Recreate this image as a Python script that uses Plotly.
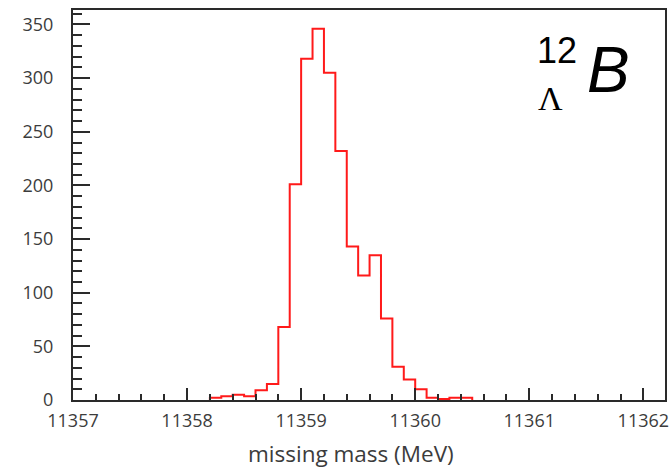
import plotly.graph_objects as go

# Histogram bins (0.1 MeV wide), left edges start at 11358.2
bin_start = 11358.2
bin_width = 0.1
counts = [2, 3.5, 5, 3.5, 9, 15, 68, 201, 318, 346, 305, 232, 143, 116, 135, 76, 31, 19, 10, 2, 1, 2, 2]

x_tick_vals = [11357, 11358, 11359, 11360, 11361, 11362]
x_tick_text = ["11357", "11358", "11359", "11360", "11361", "11362"]
y_tick_vals = [0, 50, 100, 150, 200, 250, 300, 350]

edges = [round(bin_start + i * bin_width, 4) for i in range(len(counts) + 1)]
xs = [edges[0]]
ys = [0]
for i, c in enumerate(counts):
    xs += [edges[i], edges[i + 1]]
    ys += [c, c]
xs.append(edges[-1])
ys.append(0)

fig = go.Figure()
fig.add_trace(go.Scatter(x=xs, y=ys, mode="lines",
                         line=dict(color="#ff1a1a", width=2),
                         showlegend=False, hoverinfo="skip"))

axis_color = "#2a2a2a"
label_color = "#3c3c3c"
tick_font = dict(family="Open Sans, sans-serif", size=18, color=label_color)

L, R, T, B = 73, 5, 10, 69
W, H = 670, 469
pw, ph = W - L - R, H - T - B

fig.update_layout(
    width=W, height=H,
    margin=dict(l=L, r=R, t=T, b=B),
    paper_bgcolor="white", plot_bgcolor="white",
    xaxis=dict(
        range=[11357, 11362.19],
        tickvals=x_tick_vals, ticktext=x_tick_text,
        ticks="inside", ticklen=12, tickwidth=2, tickcolor=axis_color,
        minor=dict(dtick=0.2, tick0=11357, ticks="inside", ticklen=6, tickwidth=2, tickcolor=axis_color, showgrid=False),
        showline=True, linecolor=axis_color, linewidth=2, mirror=True,
        showgrid=False, zeroline=False, automargin=False,
        tickfont=tick_font, ticklabelstandoff=3,
    ),
    yaxis=dict(
        range=[0, 363.5],
        tickvals=y_tick_vals,
        ticks="inside", ticklen=17, tickwidth=2, tickcolor=axis_color,
        minor=dict(dtick=10, tick0=0, ticks="inside", ticklen=9, tickwidth=2, tickcolor=axis_color, showgrid=False),
        showline=True, linecolor=axis_color, linewidth=2, mirror=True,
        showgrid=False, zeroline=False, automargin=False,
        tickfont=tick_font, ticklabelstandoff=14,
    ),
)

def px_to_paper(px, py):
    return (px - L) / pw, (H - B - py) / ph

def label(text, px, py, font):
    ax, ay = px_to_paper(px, py)
    fig.add_annotation(x=ax, y=ay, xref="paper", yref="paper", text=text, showarrow=False,
                       xanchor="center", yanchor="middle", font=font)

# axis title
label("missing mass (MeV)", 351, 453, dict(family="Open Sans, sans-serif", size=22.5, color=label_color))
# nucleus label
label("12", 557, 51, dict(family="Liberation Sans, Arial", size=36, color="black"))
label("<i>B</i>", 608, 70, dict(family="Liberation Sans, Arial", size=64, color="black"))
label("Λ", 550, 99, dict(family="Liberation Serif, Times New Roman", size=34, color="black"))

fig.write_html("out.html", config={"displayModeBar": False},
               post_script="document.body.style.margin='0';")
